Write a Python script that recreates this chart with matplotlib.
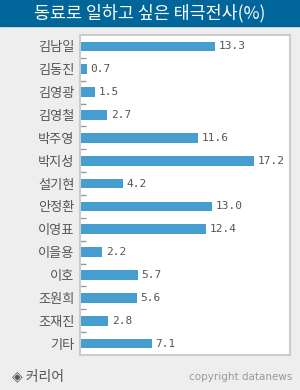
import matplotlib
matplotlib.use('Agg')
import matplotlib.pyplot as plt
from matplotlib.patches import Rectangle

names = ['김남일', '김동진', '김영광', '김영철', '박주영', '박지성', '설기현',
         '안정환', '이영표', '이을용', '이호', '조원희', '조재진', '기타']
values = [13.3, 0.7, 1.5, 2.7, 11.6, 17.2, 4.2, 13.0, 12.4, 2.2, 5.7, 5.6, 2.8, 7.1]
labels = ['13.3', '0.7', '1.5', '2.7', '11.6', '17.2', '4.2', '13.0', '12.4',
          '2.2', '5.7', '5.6', '2.8', '7.1']
title = '동료로 일하고 싶은 태극전사(%)'

W, H = 300, 390
kr = ['Noto Sans CJK KR', 'DejaVu Sans']

fig = plt.figure(figsize=(W / 100, H / 100), dpi=100, facecolor='#eeeeee')

# title bar
fig.patches.append(Rectangle((0, 1 - 26 / H), 1, 26 / H, transform=fig.transFigure,
                             color='#006699', zorder=0))
fig.text(0.5, 1 - 13.5 / H, title, color='white', fontsize=12.5, fontweight='medium',
         family=kr, ha='center', va='center')

ax = fig.add_axes([80 / W, 35 / H, 210 / W, 320 / H])
ax.set_facecolor('white')
ys = list(range(len(names)))
ax.barh(ys, values, height=0.43, color='#459ecf')
for y, v, lab in zip(ys, values, labels):
    ax.text(v + 0.35, y, lab, va='center', ha='left', fontsize=8,
            family='DejaVu Sans Mono', color='#555555')

ax.set_xlim(0, 20.7)
ax.set_ylim(len(names) - 0.5, -0.5)
ax.set_xticks([])
ax.set_yticks(ys)
ax.set_yticklabels(names, family=kr, fontsize=9.5, color='#555555')
ax.tick_params(axis='y', which='major', length=0, pad=4)
ax.set_yticks([i + 0.5 for i in range(len(names) - 1)], minor=True)
ax.tick_params(axis='y', which='minor', direction='in', length=4.5,
               color='#999999', width=1)
for s in ax.spines.values():
    s.set_color('#cccccc')
    s.set_linewidth(1.5)

# footer
fig.text(12 / W, 1 - 376 / H, '◈ 커리어', family=kr, fontsize=10, color='#555555',
         ha='left', va='center')
fig.text(292 / W, 1 - 377 / H, 'copyright datanews', family='DejaVu Sans',
         fontsize=7.5, color='#999999', ha='right', va='center')

fig.savefig('out.png', dpi=100, facecolor=fig.get_facecolor())
